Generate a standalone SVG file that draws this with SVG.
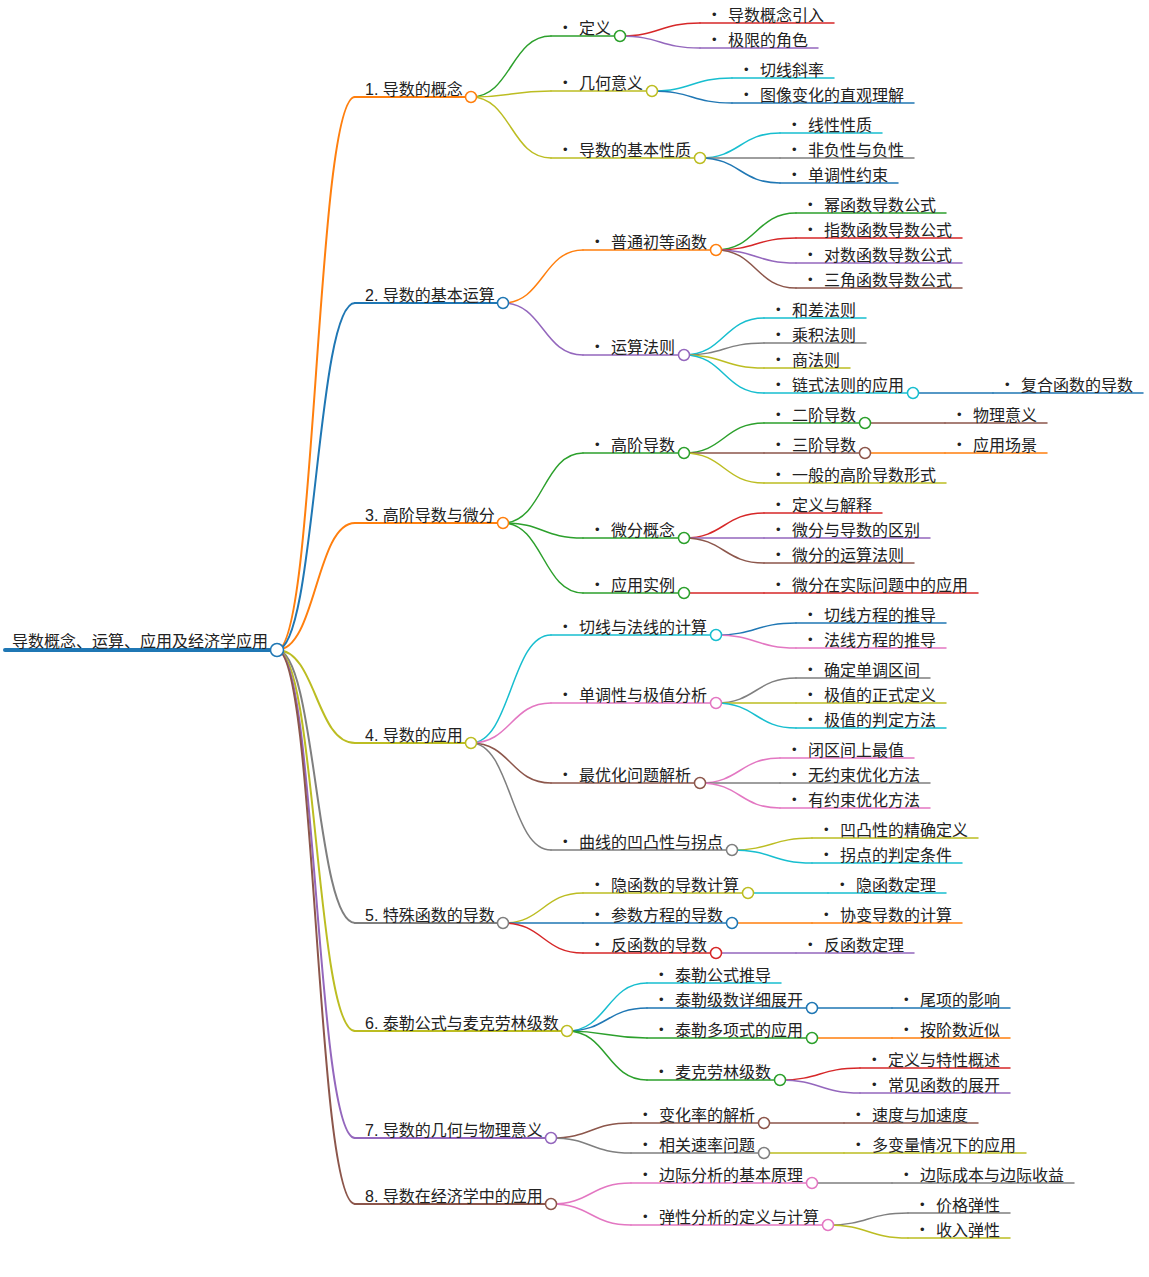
<svg xmlns="http://www.w3.org/2000/svg" width="1149" height="1277" viewBox="0 0 1149 1277">
<style>
text{font-family:"Liberation Sans","Noto Sans CJK SC",sans-serif;font-size:16px;fill:#222}
.b{font-size:13px}
path,line{fill:none;stroke-linecap:round}
circle{fill:#fff;stroke-width:1.5}
.l1{stroke-width:2}
.l2{stroke-width:1.5}
.blue{stroke:#1f77b4}.orange{stroke:#ff7f0e}.green{stroke:#2ca02c}.red{stroke:#d62728}.purple{stroke:#9467bd}
.brown{stroke:#8c564b}.pink{stroke:#e377c2}.gray{stroke:#7f7f7f}.olive{stroke:#bcbd22}.cyan{stroke:#17becf}
</style>
<rect width="1149" height="1277" fill="#fff"/>
<g id="connectors">
<path class="l1 orange" d="M277 650C316 650 316 97 355 97"/>
<path class="l1 blue" d="M277 650C316 650 316 303 355 303"/>
<path class="l1 orange" d="M277 650C316 650 316 523 355 523"/>
<path class="l1 olive" d="M277 650C316 650 316 743 355 743"/>
<path class="l1 gray" d="M277 650C316 650 316 923 355 923"/>
<path class="l1 olive" d="M277 650C316 650 316 1031 355 1031"/>
<path class="l1 purple" d="M277 650C316 650 316 1138 355 1138"/>
<path class="l1 brown" d="M277 650C316 650 316 1204 355 1204"/>
<path class="l2 green" d="M471 97C511 97 511 36 551 36"/>
<path class="l2 olive" d="M471 97C511 97 511 91 551 91"/>
<path class="l2 olive" d="M471 97C511 97 511 158 551 158"/>
<path class="l2 red" d="M620 36C660 36 660 23 700 23"/>
<path class="l2 purple" d="M620 36C660 36 660 48 700 48"/>
<path class="l2 cyan" d="M652 91C692 91 692 78 732 78"/>
<path class="l2 blue" d="M652 91C692 91 692 103 732 103"/>
<path class="l2 cyan" d="M700 158C740 158 740 133 780 133"/>
<path class="l2 gray" d="M700 158L780 158"/>
<path class="l2 blue" d="M700 158C740 158 740 183 780 183"/>
<path class="l2 orange" d="M503 303C543 303 543 250 583 250"/>
<path class="l2 purple" d="M503 303C543 303 543 355 583 355"/>
<path class="l2 green" d="M716 250C756 250 756 213 796 213"/>
<path class="l2 red" d="M716 250C756 250 756 238 796 238"/>
<path class="l2 purple" d="M716 250C756 250 756 263 796 263"/>
<path class="l2 brown" d="M716 250C756 250 756 288 796 288"/>
<path class="l2 cyan" d="M684 355C724 355 724 318 764 318"/>
<path class="l2 gray" d="M684 355C724 355 724 343 764 343"/>
<path class="l2 olive" d="M684 355C724 355 724 368 764 368"/>
<path class="l2 cyan" d="M684 355C724 355 724 393 764 393"/>
<path class="l2 blue" d="M913 393L993 393"/>
<path class="l2 green" d="M503 523C543 523 543 453 583 453"/>
<path class="l2 green" d="M503 523C543 523 543 538 583 538"/>
<path class="l2 green" d="M503 523C543 523 543 593 583 593"/>
<path class="l2 green" d="M684 453C724 453 724 423 764 423"/>
<path class="l2 brown" d="M684 453L764 453"/>
<path class="l2 olive" d="M684 453C724 453 724 483 764 483"/>
<path class="l2 brown" d="M865 423L945 423"/>
<path class="l2 orange" d="M865 453L945 453"/>
<path class="l2 red" d="M684 538C724 538 724 513 764 513"/>
<path class="l2 purple" d="M684 538L764 538"/>
<path class="l2 brown" d="M684 538C724 538 724 563 764 563"/>
<path class="l2 red" d="M684 593L764 593"/>
<path class="l2 cyan" d="M471 743C511 743 511 635 551 635"/>
<path class="l2 pink" d="M471 743C511 743 511 703 551 703"/>
<path class="l2 brown" d="M471 743C511 743 511 783 551 783"/>
<path class="l2 gray" d="M471 743C511 743 511 850 551 850"/>
<path class="l2 blue" d="M716 635C756 635 756 623 796 623"/>
<path class="l2 pink" d="M716 635C756 635 756 648 796 648"/>
<path class="l2 gray" d="M716 703C756 703 756 678 796 678"/>
<path class="l2 olive" d="M716 703L796 703"/>
<path class="l2 cyan" d="M716 703C756 703 756 728 796 728"/>
<path class="l2 pink" d="M700 783C740 783 740 758 780 758"/>
<path class="l2 gray" d="M700 783L780 783"/>
<path class="l2 pink" d="M700 783C740 783 740 808 780 808"/>
<path class="l2 olive" d="M732 850C772 850 772 838 812 838"/>
<path class="l2 cyan" d="M732 850C772 850 772 863 812 863"/>
<path class="l2 olive" d="M503 923C543 923 543 893 583 893"/>
<path class="l2 blue" d="M503 923L583 923"/>
<path class="l2 red" d="M503 923C543 923 543 953 583 953"/>
<path class="l2 cyan" d="M748 893L828 893"/>
<path class="l2 orange" d="M732 923L812 923"/>
<path class="l2 purple" d="M716 953L796 953"/>
<path class="l2 cyan" d="M567 1031C607 1031 607 983 647 983"/>
<path class="l2 blue" d="M567 1031C607 1031 607 1008 647 1008"/>
<path class="l2 green" d="M567 1031C607 1031 607 1038 647 1038"/>
<path class="l2 green" d="M567 1031C607 1031 607 1080 647 1080"/>
<path class="l2 blue" d="M812 1008L892 1008"/>
<path class="l2 orange" d="M812 1038L892 1038"/>
<path class="l2 red" d="M780 1080C820 1080 820 1068 860 1068"/>
<path class="l2 purple" d="M780 1080C820 1080 820 1093 860 1093"/>
<path class="l2 brown" d="M551 1138C591 1138 591 1123 631 1123"/>
<path class="l2 gray" d="M551 1138C591 1138 591 1153 631 1153"/>
<path class="l2 brown" d="M764 1123L844 1123"/>
<path class="l2 olive" d="M764 1153L844 1153"/>
<path class="l2 pink" d="M551 1204C591 1204 591 1183 631 1183"/>
<path class="l2 pink" d="M551 1204C591 1204 591 1225 631 1225"/>
<path class="l2 gray" d="M812 1183L892 1183"/>
<path class="l2 gray" d="M828 1225C868 1225 868 1213 908 1213"/>
<path class="l2 olive" d="M828 1225C868 1225 868 1238 908 1238"/>
</g>

<g id="n0"><line x1="5" y1="650" x2="277" y2="650" stroke="#1f77b4" stroke-width="4"/><text x="12" y="647">导数概念、运算、应用及经济学应用</text><circle cx="277" cy="650" r="6.5" class="blue" stroke-width="2"/></g>

<g id="n1"><line class="l1 orange" x1="355" y1="97" x2="471" y2="97"/><text x="365" y="94.5">1. 导数的概念</text><circle class="orange" cx="471" cy="97" r="5.5"/></g>
<g id="n1-1"><line class="l2 green" x1="551" y1="36" x2="620" y2="36"/><text><tspan class="b" x="563" y="32">•</tspan><tspan x="579" y="33.5">定义</tspan></text><circle class="green" cx="620" cy="36" r="5.5"/></g>
<g id="n1-1-1"><line class="l2 red" x1="700" y1="23" x2="834" y2="23"/><text><tspan class="b" x="712" y="19">•</tspan><tspan x="728" y="20.5">导数概念引入</tspan></text></g>
<g id="n1-1-2"><line class="l2 purple" x1="700" y1="48" x2="818" y2="48"/><text><tspan class="b" x="712" y="44">•</tspan><tspan x="728" y="45.5">极限的角色</tspan></text></g>
<g id="n1-2"><line class="l2 olive" x1="551" y1="91" x2="652" y2="91"/><text><tspan class="b" x="563" y="87">•</tspan><tspan x="579" y="88.5">几何意义</tspan></text><circle class="olive" cx="652" cy="91" r="5.5"/></g>
<g id="n1-2-1"><line class="l2 cyan" x1="732" y1="78" x2="834" y2="78"/><text><tspan class="b" x="744" y="74">•</tspan><tspan x="760" y="75.5">切线斜率</tspan></text></g>
<g id="n1-2-2"><line class="l2 blue" x1="732" y1="103" x2="914" y2="103"/><text><tspan class="b" x="744" y="99">•</tspan><tspan x="760" y="100.5">图像变化的直观理解</tspan></text></g>
<g id="n1-3"><line class="l2 olive" x1="551" y1="158" x2="700" y2="158"/><text><tspan class="b" x="563" y="154">•</tspan><tspan x="579" y="155.5">导数的基本性质</tspan></text><circle class="olive" cx="700" cy="158" r="5.5"/></g>
<g id="n1-3-1"><line class="l2 cyan" x1="780" y1="133" x2="882" y2="133"/><text><tspan class="b" x="792" y="129">•</tspan><tspan x="808" y="130.5">线性性质</tspan></text></g>
<g id="n1-3-2"><line class="l2 gray" x1="780" y1="158" x2="914" y2="158"/><text><tspan class="b" x="792" y="154">•</tspan><tspan x="808" y="155.5">非负性与负性</tspan></text></g>
<g id="n1-3-3"><line class="l2 blue" x1="780" y1="183" x2="898" y2="183"/><text><tspan class="b" x="792" y="179">•</tspan><tspan x="808" y="180.5">单调性约束</tspan></text></g>

<g id="n2"><line class="l1 blue" x1="355" y1="303" x2="503" y2="303"/><text x="365" y="300.5">2. 导数的基本运算</text><circle class="blue" cx="503" cy="303" r="5.5"/></g>
<g id="n2-1"><line class="l2 orange" x1="583" y1="250" x2="716" y2="250"/><text><tspan class="b" x="595" y="246">•</tspan><tspan x="611" y="247.5">普通初等函数</tspan></text><circle class="orange" cx="716" cy="250" r="5.5"/></g>
<g id="n2-1-1"><line class="l2 green" x1="796" y1="213" x2="946" y2="213"/><text><tspan class="b" x="808" y="209">•</tspan><tspan x="824" y="210.5">幂函数导数公式</tspan></text></g>
<g id="n2-1-2"><line class="l2 red" x1="796" y1="238" x2="962" y2="238"/><text><tspan class="b" x="808" y="234">•</tspan><tspan x="824" y="235.5">指数函数导数公式</tspan></text></g>
<g id="n2-1-3"><line class="l2 purple" x1="796" y1="263" x2="962" y2="263"/><text><tspan class="b" x="808" y="259">•</tspan><tspan x="824" y="260.5">对数函数导数公式</tspan></text></g>
<g id="n2-1-4"><line class="l2 brown" x1="796" y1="288" x2="962" y2="288"/><text><tspan class="b" x="808" y="284">•</tspan><tspan x="824" y="285.5">三角函数导数公式</tspan></text></g>
<g id="n2-2"><line class="l2 purple" x1="583" y1="355" x2="684" y2="355"/><text><tspan class="b" x="595" y="351">•</tspan><tspan x="611" y="352.5">运算法则</tspan></text><circle class="purple" cx="684" cy="355" r="5.5"/></g>
<g id="n2-2-1"><line class="l2 cyan" x1="764" y1="318" x2="866" y2="318"/><text><tspan class="b" x="776" y="314">•</tspan><tspan x="792" y="315.5">和差法则</tspan></text></g>
<g id="n2-2-2"><line class="l2 gray" x1="764" y1="343" x2="866" y2="343"/><text><tspan class="b" x="776" y="339">•</tspan><tspan x="792" y="340.5">乘积法则</tspan></text></g>
<g id="n2-2-3"><line class="l2 olive" x1="764" y1="368" x2="850" y2="368"/><text><tspan class="b" x="776" y="364">•</tspan><tspan x="792" y="365.5">商法则</tspan></text></g>
<g id="n2-2-4"><line class="l2 cyan" x1="764" y1="393" x2="913" y2="393"/><text><tspan class="b" x="776" y="389">•</tspan><tspan x="792" y="390.5">链式法则的应用</tspan></text><circle class="cyan" cx="913" cy="393" r="5.5"/></g>
<g id="n2-2-4-1"><line class="l2 blue" x1="993" y1="393" x2="1143" y2="393"/><text><tspan class="b" x="1005" y="389">•</tspan><tspan x="1021" y="390.5">复合函数的导数</tspan></text></g>

<g id="n3"><line class="l1 orange" x1="355" y1="523" x2="503" y2="523"/><text x="365" y="520.5">3. 高阶导数与微分</text><circle class="orange" cx="503" cy="523" r="5.5"/></g>
<g id="n3-1"><line class="l2 green" x1="583" y1="453" x2="684" y2="453"/><text><tspan class="b" x="595" y="449">•</tspan><tspan x="611" y="450.5">高阶导数</tspan></text><circle class="green" cx="684" cy="453" r="5.5"/></g>
<g id="n3-1-1"><line class="l2 green" x1="764" y1="423" x2="865" y2="423"/><text><tspan class="b" x="776" y="419">•</tspan><tspan x="792" y="420.5">二阶导数</tspan></text><circle class="green" cx="865" cy="423" r="5.5"/></g>
<g id="n3-1-1-1"><line class="l2 brown" x1="945" y1="423" x2="1047" y2="423"/><text><tspan class="b" x="957" y="419">•</tspan><tspan x="973" y="420.5">物理意义</tspan></text></g>
<g id="n3-1-2"><line class="l2 brown" x1="764" y1="453" x2="865" y2="453"/><text><tspan class="b" x="776" y="449">•</tspan><tspan x="792" y="450.5">三阶导数</tspan></text><circle class="brown" cx="865" cy="453" r="5.5"/></g>
<g id="n3-1-2-1"><line class="l2 orange" x1="945" y1="453" x2="1047" y2="453"/><text><tspan class="b" x="957" y="449">•</tspan><tspan x="973" y="450.5">应用场景</tspan></text></g>
<g id="n3-1-3"><line class="l2 olive" x1="764" y1="483" x2="946" y2="483"/><text><tspan class="b" x="776" y="479">•</tspan><tspan x="792" y="480.5">一般的高阶导数形式</tspan></text></g>
<g id="n3-2"><line class="l2 green" x1="583" y1="538" x2="684" y2="538"/><text><tspan class="b" x="595" y="534">•</tspan><tspan x="611" y="535.5">微分概念</tspan></text><circle class="green" cx="684" cy="538" r="5.5"/></g>
<g id="n3-2-1"><line class="l2 red" x1="764" y1="513" x2="882" y2="513"/><text><tspan class="b" x="776" y="509">•</tspan><tspan x="792" y="510.5">定义与解释</tspan></text></g>
<g id="n3-2-2"><line class="l2 purple" x1="764" y1="538" x2="930" y2="538"/><text><tspan class="b" x="776" y="534">•</tspan><tspan x="792" y="535.5">微分与导数的区别</tspan></text></g>
<g id="n3-2-3"><line class="l2 brown" x1="764" y1="563" x2="914" y2="563"/><text><tspan class="b" x="776" y="559">•</tspan><tspan x="792" y="560.5">微分的运算法则</tspan></text></g>
<g id="n3-3"><line class="l2 green" x1="583" y1="593" x2="684" y2="593"/><text><tspan class="b" x="595" y="589">•</tspan><tspan x="611" y="590.5">应用实例</tspan></text><circle class="green" cx="684" cy="593" r="5.5"/></g>
<g id="n3-3-1"><line class="l2 red" x1="764" y1="593" x2="978" y2="593"/><text><tspan class="b" x="776" y="589">•</tspan><tspan x="792" y="590.5">微分在实际问题中的应用</tspan></text></g>

<g id="n4"><line class="l1 olive" x1="355" y1="743" x2="471" y2="743"/><text x="365" y="740.5">4. 导数的应用</text><circle class="olive" cx="471" cy="743" r="5.5"/></g>
<g id="n4-1"><line class="l2 cyan" x1="551" y1="635" x2="716" y2="635"/><text><tspan class="b" x="563" y="631">•</tspan><tspan x="579" y="632.5">切线与法线的计算</tspan></text><circle class="cyan" cx="716" cy="635" r="5.5"/></g>
<g id="n4-1-1"><line class="l2 blue" x1="796" y1="623" x2="946" y2="623"/><text><tspan class="b" x="808" y="619">•</tspan><tspan x="824" y="620.5">切线方程的推导</tspan></text></g>
<g id="n4-1-2"><line class="l2 pink" x1="796" y1="648" x2="946" y2="648"/><text><tspan class="b" x="808" y="644">•</tspan><tspan x="824" y="645.5">法线方程的推导</tspan></text></g>
<g id="n4-2"><line class="l2 pink" x1="551" y1="703" x2="716" y2="703"/><text><tspan class="b" x="563" y="699">•</tspan><tspan x="579" y="700.5">单调性与极值分析</tspan></text><circle class="pink" cx="716" cy="703" r="5.5"/></g>
<g id="n4-2-1"><line class="l2 gray" x1="796" y1="678" x2="930" y2="678"/><text><tspan class="b" x="808" y="674">•</tspan><tspan x="824" y="675.5">确定单调区间</tspan></text></g>
<g id="n4-2-2"><line class="l2 olive" x1="796" y1="703" x2="946" y2="703"/><text><tspan class="b" x="808" y="699">•</tspan><tspan x="824" y="700.5">极值的正式定义</tspan></text></g>
<g id="n4-2-3"><line class="l2 cyan" x1="796" y1="728" x2="946" y2="728"/><text><tspan class="b" x="808" y="724">•</tspan><tspan x="824" y="725.5">极值的判定方法</tspan></text></g>
<g id="n4-3"><line class="l2 brown" x1="551" y1="783" x2="700" y2="783"/><text><tspan class="b" x="563" y="779">•</tspan><tspan x="579" y="780.5">最优化问题解析</tspan></text><circle class="brown" cx="700" cy="783" r="5.5"/></g>
<g id="n4-3-1"><line class="l2 pink" x1="780" y1="758" x2="914" y2="758"/><text><tspan class="b" x="792" y="754">•</tspan><tspan x="808" y="755.5">闭区间上最值</tspan></text></g>
<g id="n4-3-2"><line class="l2 gray" x1="780" y1="783" x2="930" y2="783"/><text><tspan class="b" x="792" y="779">•</tspan><tspan x="808" y="780.5">无约束优化方法</tspan></text></g>
<g id="n4-3-3"><line class="l2 pink" x1="780" y1="808" x2="930" y2="808"/><text><tspan class="b" x="792" y="804">•</tspan><tspan x="808" y="805.5">有约束优化方法</tspan></text></g>
<g id="n4-4"><line class="l2 gray" x1="551" y1="850" x2="732" y2="850"/><text><tspan class="b" x="563" y="846">•</tspan><tspan x="579" y="847.5">曲线的凹凸性与拐点</tspan></text><circle class="gray" cx="732" cy="850" r="5.5"/></g>
<g id="n4-4-1"><line class="l2 olive" x1="812" y1="838" x2="978" y2="838"/><text><tspan class="b" x="824" y="834">•</tspan><tspan x="840" y="835.5">凹凸性的精确定义</tspan></text></g>
<g id="n4-4-2"><line class="l2 cyan" x1="812" y1="863" x2="962" y2="863"/><text><tspan class="b" x="824" y="859">•</tspan><tspan x="840" y="860.5">拐点的判定条件</tspan></text></g>

<g id="n5"><line class="l1 gray" x1="355" y1="923" x2="503" y2="923"/><text x="365" y="920.5">5. 特殊函数的导数</text><circle class="gray" cx="503" cy="923" r="5.5"/></g>
<g id="n5-1"><line class="l2 olive" x1="583" y1="893" x2="748" y2="893"/><text><tspan class="b" x="595" y="889">•</tspan><tspan x="611" y="890.5">隐函数的导数计算</tspan></text><circle class="olive" cx="748" cy="893" r="5.5"/></g>
<g id="n5-1-1"><line class="l2 cyan" x1="828" y1="893" x2="946" y2="893"/><text><tspan class="b" x="840" y="889">•</tspan><tspan x="856" y="890.5">隐函数定理</tspan></text></g>
<g id="n5-2"><line class="l2 blue" x1="583" y1="923" x2="732" y2="923"/><text><tspan class="b" x="595" y="919">•</tspan><tspan x="611" y="920.5">参数方程的导数</tspan></text><circle class="blue" cx="732" cy="923" r="5.5"/></g>
<g id="n5-2-1"><line class="l2 orange" x1="812" y1="923" x2="962" y2="923"/><text><tspan class="b" x="824" y="919">•</tspan><tspan x="840" y="920.5">协变导数的计算</tspan></text></g>
<g id="n5-3"><line class="l2 red" x1="583" y1="953" x2="716" y2="953"/><text><tspan class="b" x="595" y="949">•</tspan><tspan x="611" y="950.5">反函数的导数</tspan></text><circle class="red" cx="716" cy="953" r="5.5"/></g>
<g id="n5-3-1"><line class="l2 purple" x1="796" y1="953" x2="914" y2="953"/><text><tspan class="b" x="808" y="949">•</tspan><tspan x="824" y="950.5">反函数定理</tspan></text></g>

<g id="n6"><line class="l1 olive" x1="355" y1="1031" x2="567" y2="1031"/><text x="365" y="1028.5">6. 泰勒公式与麦克劳林级数</text><circle class="olive" cx="567" cy="1031" r="5.5"/></g>
<g id="n6-1"><line class="l2 cyan" x1="647" y1="983" x2="781" y2="983"/><text><tspan class="b" x="659" y="979">•</tspan><tspan x="675" y="980.5">泰勒公式推导</tspan></text></g>
<g id="n6-2"><line class="l2 blue" x1="647" y1="1008" x2="812" y2="1008"/><text><tspan class="b" x="659" y="1004">•</tspan><tspan x="675" y="1005.5">泰勒级数详细展开</tspan></text><circle class="blue" cx="812" cy="1008" r="5.5"/></g>
<g id="n6-2-1"><line class="l2 blue" x1="892" y1="1008" x2="1010" y2="1008"/><text><tspan class="b" x="904" y="1004">•</tspan><tspan x="920" y="1005.5">尾项的影响</tspan></text></g>
<g id="n6-3"><line class="l2 green" x1="647" y1="1038" x2="812" y2="1038"/><text><tspan class="b" x="659" y="1034">•</tspan><tspan x="675" y="1035.5">泰勒多项式的应用</tspan></text><circle class="green" cx="812" cy="1038" r="5.5"/></g>
<g id="n6-3-1"><line class="l2 orange" x1="892" y1="1038" x2="1010" y2="1038"/><text><tspan class="b" x="904" y="1034">•</tspan><tspan x="920" y="1035.5">按阶数近似</tspan></text></g>
<g id="n6-4"><line class="l2 green" x1="647" y1="1080" x2="780" y2="1080"/><text><tspan class="b" x="659" y="1076">•</tspan><tspan x="675" y="1077.5">麦克劳林级数</tspan></text><circle class="green" cx="780" cy="1080" r="5.5"/></g>
<g id="n6-4-1"><line class="l2 red" x1="860" y1="1068" x2="1010" y2="1068"/><text><tspan class="b" x="872" y="1064">•</tspan><tspan x="888" y="1065.5">定义与特性概述</tspan></text></g>
<g id="n6-4-2"><line class="l2 purple" x1="860" y1="1093" x2="1010" y2="1093"/><text><tspan class="b" x="872" y="1089">•</tspan><tspan x="888" y="1090.5">常见函数的展开</tspan></text></g>

<g id="n7"><line class="l1 purple" x1="355" y1="1138" x2="551" y2="1138"/><text x="365" y="1135.5">7. 导数的几何与物理意义</text><circle class="purple" cx="551" cy="1138" r="5.5"/></g>
<g id="n7-1"><line class="l2 brown" x1="631" y1="1123" x2="764" y2="1123"/><text><tspan class="b" x="643" y="1119">•</tspan><tspan x="659" y="1120.5">变化率的解析</tspan></text><circle class="brown" cx="764" cy="1123" r="5.5"/></g>
<g id="n7-1-1"><line class="l2 brown" x1="844" y1="1123" x2="978" y2="1123"/><text><tspan class="b" x="856" y="1119">•</tspan><tspan x="872" y="1120.5">速度与加速度</tspan></text></g>
<g id="n7-2"><line class="l2 gray" x1="631" y1="1153" x2="764" y2="1153"/><text><tspan class="b" x="643" y="1149">•</tspan><tspan x="659" y="1150.5">相关速率问题</tspan></text><circle class="gray" cx="764" cy="1153" r="5.5"/></g>
<g id="n7-2-1"><line class="l2 olive" x1="844" y1="1153" x2="1026" y2="1153"/><text><tspan class="b" x="856" y="1149">•</tspan><tspan x="872" y="1150.5">多变量情况下的应用</tspan></text></g>

<g id="n8"><line class="l1 brown" x1="355" y1="1204" x2="551" y2="1204"/><text x="365" y="1201.5">8. 导数在经济学中的应用</text><circle class="brown" cx="551" cy="1204" r="5.5"/></g>
<g id="n8-1"><line class="l2 pink" x1="631" y1="1183" x2="812" y2="1183"/><text><tspan class="b" x="643" y="1179">•</tspan><tspan x="659" y="1180.5">边际分析的基本原理</tspan></text><circle class="pink" cx="812" cy="1183" r="5.5"/></g>
<g id="n8-1-1"><line class="l2 gray" x1="892" y1="1183" x2="1074" y2="1183"/><text><tspan class="b" x="904" y="1179">•</tspan><tspan x="920" y="1180.5">边际成本与边际收益</tspan></text></g>
<g id="n8-2"><line class="l2 pink" x1="631" y1="1225" x2="828" y2="1225"/><text><tspan class="b" x="643" y="1221">•</tspan><tspan x="659" y="1222.5">弹性分析的定义与计算</tspan></text><circle class="pink" cx="828" cy="1225" r="5.5"/></g>
<g id="n8-2-1"><line class="l2 gray" x1="908" y1="1213" x2="1010" y2="1213"/><text><tspan class="b" x="920" y="1209">•</tspan><tspan x="936" y="1210.5">价格弹性</tspan></text></g>
<g id="n8-2-2"><line class="l2 olive" x1="908" y1="1238" x2="1010" y2="1238"/><text><tspan class="b" x="920" y="1234">•</tspan><tspan x="936" y="1235.5">收入弹性</tspan></text></g>
</svg>
